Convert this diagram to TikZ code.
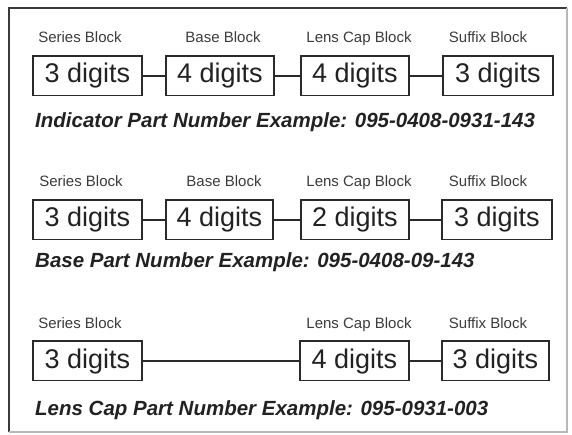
\documentclass[tikz,border=0pt]{standalone}
\usepackage{fontspec}
\setmainfont{Liberation Sans}
\definecolor{boxcol}{HTML}{2A2A2A}
\definecolor{txtcol}{HTML}{222222}
\definecolor{lblcol}{HTML}{3C3C3C}
\definecolor{framedark}{HTML}{3A3A3A}
\definecolor{framelight}{HTML}{B8B8B8}
\begin{document}
\begin{tikzpicture}[x=1pt,y=-1pt,
  digitbox/.style={draw=boxcol, line width=1.1pt, text=txtcol,
    font=\fontsize{27}{27}\selectfont, inner xsep=0pt, inner ysep=0pt,
    text height=27pt, text depth=12.5pt, anchor=base},
  blocklabel/.style={text=lblcol, font=\fontsize{15}{16}\selectfont, inner sep=0pt, anchor=base},
  caption/.style={text=txtcol, font=\fontsize{20.5}{21}\selectfont\bfseries\itshape, inner sep=0pt, anchor=base west},
  link/.style={draw=boxcol, line width=1.9pt}]
\useasboundingbox (0,0) rectangle (572,435);
\fill[white] (0,0) rectangle (572,435);
% frame
\draw[framedark, line width=1.6pt] (9,432) -- (9,8) -- (567,8);
\draw[framelight, line width=1.2pt] (567,8) -- (567,432) -- (9,432);

% Row 1
\node[blocklabel] (l1a) at (80,43) {Series Block};
\node[blocklabel] (l1b) at (223,43) {Base Block};
\node[blocklabel] (l1c) at (359,43) {Lens Cap Block};
\node[blocklabel] (l1d) at (488,43) {Suffix Block};
\node[digitbox, minimum width=109pt] (r1a) at (87.5,83) {3 digits};
\node[digitbox, minimum width=108pt] (r1b) at (220,83) {4 digits};
\node[digitbox, minimum width=108pt] (r1c) at (355,83) {4 digits};
\node[digitbox, minimum width=110pt] (r1d) at (498,83) {3 digits};
\draw[link] (r1a.east) -- (r1b.west);
\draw[link] (r1b.east) -- (r1c.west);
\draw[link] (r1c.east) -- (r1d.west);
\node[caption] (c1) at (35,128) {Indicator Part Number Example: 095-0408-0931-143};

% Row 2
\node[blocklabel] (l2a) at (81,187) {Series Block};
\node[blocklabel] (l2b) at (224,187) {Base Block};
\node[blocklabel] (l2c) at (359,187) {Lens Cap Block};
\node[blocklabel] (l2d) at (488,187) {Suffix Block};
\node[digitbox, minimum width=109pt] (r2a) at (87.5,227) {3 digits};
\node[digitbox, minimum width=107pt] (r2b) at (219.5,227) {4 digits};
\node[digitbox, minimum width=108pt] (r2c) at (355,227) {2 digits};
\node[digitbox, minimum width=110pt] (r2d) at (497,227) {3 digits};
\draw[link] (r2a.east) -- (r2b.west);
\draw[link] (r2b.east) -- (r2c.west);
\draw[link] (r2c.east) -- (r2d.west);
\node[caption] (c2) at (35,268) {Base Part Number Example: 095-0408-09-143};

% Row 3
\node[blocklabel] (l3a) at (80,328) {Series Block};
\node[blocklabel] (l3c) at (359,328) {Lens Cap Block};
\node[blocklabel] (l3d) at (488,328) {Suffix Block};
\node[digitbox, minimum width=109pt] (r3a) at (87.5,368) {3 digits};
\node[digitbox, minimum width=109pt] (r3c) at (354.5,368) {4 digits};
\node[digitbox, minimum width=107pt] (r3d) at (495.5,368) {3 digits};
\draw[link] (r3a.east) -- (r3c.west);
\draw[link] (r3c.east) -- (r3d.west);
\node[caption] (c3) at (35,415) {Lens Cap Part Number Example: 095-0931-003};
\end{tikzpicture}
\end{document}
